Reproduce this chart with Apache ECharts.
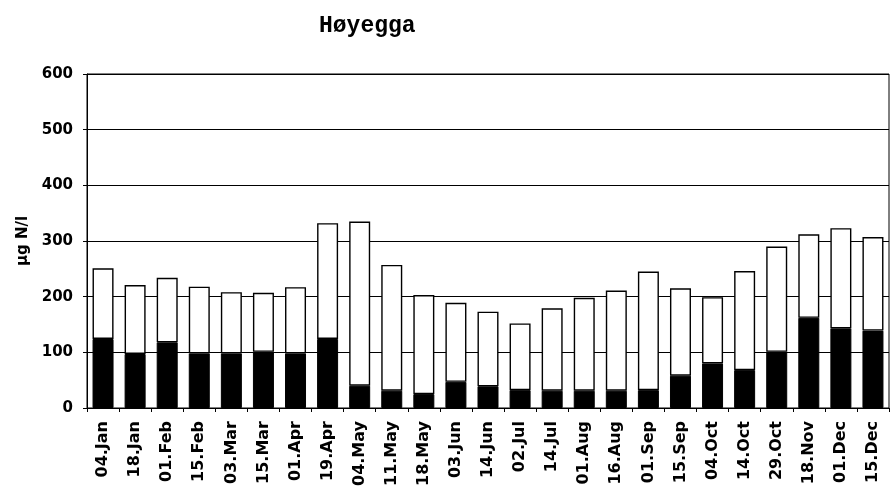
<!DOCTYPE html>
<html>
<head>
<meta charset="utf-8">
<script src="https://cdn.jsdelivr.net/npm/echarts@6/dist/echarts.min.js"></script>
<style>
html,body{margin:0;padding:0;background:#fff;}
#chart{width:893px;height:489px;}
</style>
</head>
<body>
<div id="chart"></div>
<script>
const categories = ['04.Jan','18.Jan','01.Feb','15.Feb','03.Mar','15.Mar','01.Apr','19.Apr','04.May','11.May','18.May','03.Jun','14.Jun','02.Jul','14.Jul','01.Aug','16.Aug','01.Sep','15.Sep','04.Oct','14.Oct','29.Oct','18.Nov','01.Dec','15.Dec'];
const blackPart = [124,97,118,98,98,101,98,124,40,31,25,47,39,32,31,31,31,32,58,80,68,101,162,143,139];
const whitePart = [127,124,116,120,110,106,119,208,295,226,178,142,134,120,148,167,180,213,157,119,178,189,150,180,168];
const yTicks = [0,100,200,300,400,500,600];

const chart = echarts.init(document.getElementById('chart'));
const font = 'DejaVu Sans, Liberation Sans, Arial, sans-serif';
chart.setOption({
  animation: false,
  backgroundColor: '#fff',
  title: {
    text: 'Høyegga',
    left: 314, top: 10,
    textStyle: {fontFamily: 'Liberation Mono, Courier New, monospace', fontWeight: 'bold', fontSize: 23, color: '#000'}
  },
  grid: {left: 87, right: 4, top: 74, bottom: 79, show: true, borderColor: '#000', borderWidth: 1},
  xAxis: {
    type: 'category',
    data: categories,
    axisLine: {lineStyle: {color: '#000', width: 1}},
    axisTick: {show: true, length: 4, lineStyle: {color: '#000'}},
    axisLabel: {rotate: 90, interval: 0, margin: 13, color: '#000', fontFamily: font, fontWeight: 'bold', fontSize: 16}
  },
  yAxis: {
    type: 'value',
    min: yTicks[0], max: yTicks[yTicks.length-1], interval: 100,
    name: 'µg N/l', nameLocation: 'middle', nameGap: 52, nameRotate: 90,
    nameTextStyle: {fontFamily: font, fontWeight: 'bold', fontSize: 15, color: '#000'},
    axisLine: {show: true, lineStyle: {color: '#000', width: 1}},
    axisTick: {show: true, length: 4, lineStyle: {color: '#000'}},
    axisLabel: {margin: 14, color: '#000', fontFamily: font, fontWeight: 'bold', fontSize: 15},
    splitLine: {show: true, lineStyle: {color: '#000', width: 1}}
  },
  series: [
    {type: 'bar', stack: 'n', data: blackPart, barWidth: 21,
     itemStyle: {color: '#000', borderColor: '#000', borderWidth: 1}},
    {type: 'bar', stack: 'n', data: whitePart, barWidth: 21,
     itemStyle: {color: '#fff', borderColor: '#000', borderWidth: 1.4}}
  ]
});
</script>
</body>
</html>
